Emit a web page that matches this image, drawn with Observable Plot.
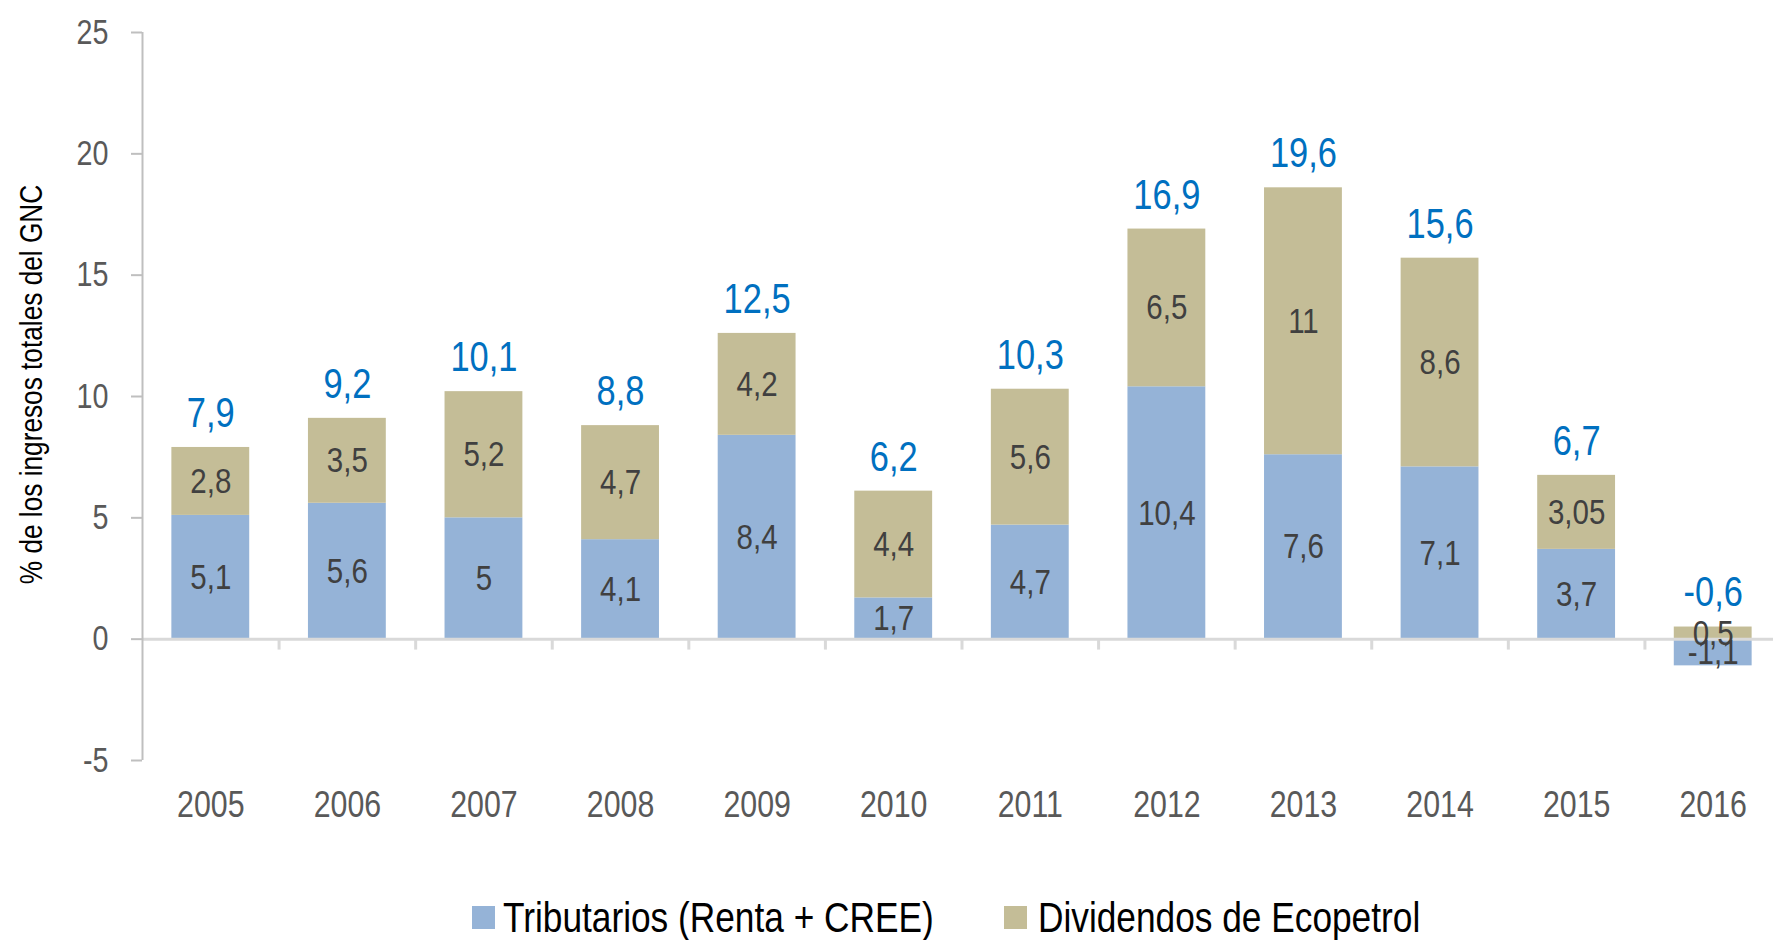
<!DOCTYPE html>
<html>
<head>
<meta charset="utf-8">
<script src="https://cdn.jsdelivr.net/npm/d3@7"></script>
<script src="https://cdn.jsdelivr.net/npm/@observablehq/plot@0.6"></script>
<style>
  html, body { margin: 0; padding: 0; background: #fff; }
  body { width: 1773px; height: 940px; overflow: hidden; font-family: "Liberation Sans", Arial, sans-serif; }
  #chart { height: 885px; overflow: hidden; }
  #legend { height: 55px; box-sizing: border-box; padding-left: 120px; padding-top: 10px; display: flex; justify-content: center; align-items: center; font-size: 43px; color: #000; }
  .item { display: flex; align-items: center; white-space: nowrap; }
  .sw { width: 23px; height: 23px; display: inline-block; }
  .lbl { display: inline-block; transform: scaleX(0.82); transform-origin: left center; }
</style>
</head>
<body>
<div id="chart"></div>
<div id="legend"></div>
<script>
const years = ["2005","2006","2007","2008","2009","2010","2011","2012","2013","2014","2015","2016"];
const tributarios = [5.1, 5.6, 5, 4.1, 8.4, 1.7, 4.7, 10.4, 7.6, 7.1, 3.7, -1.1];
const dividendos  = [2.8, 3.5, 5.2, 4.7, 4.2, 4.4, 5.6, 6.5, 11, 8.6, 3.05, 0.5];
const totales     = [7.9, 9.2, 10.1, 8.8, 12.5, 6.2, 10.3, 16.9, 19.6, 15.6, 6.7, -0.6];
const series = ["Tributarios (Renta + CREE)", "Dividendos de Ecopetrol"];
const seriesColors = ["#95B3D7", "#C4BD97"];
const yTicks = [-5, 0, 5, 10, 15, 20, 25];
const yTitle = "% de los ingresos totales del GNC";

const FONT = '"Liberation Sans", Arial, sans-serif';
const NARROW = 0.82; // horizontal condensing to imitate Arial Narrow
const W = 1773, H = 885, mL = 142, mR = -8, mT = 32, mB = 125;
const step = (W - mL - mR) / years.length;

const rows = years.flatMap((yr, i) => [
  {year: yr, serie: series[0], value: tributarios[i]},
  {year: yr, serie: series[1], value: dividendos[i]}
]);
const tops = years.map((yr, i) => ({
  year: yr,
  top: Math.max(0, tributarios[i]) + Math.max(0, dividendos[i]),
  total: totales[i]
}));
const fmt = v => String(v).replace(".", ",");

const chart = Plot.plot({
  width: W, height: H,
  marginLeft: mL, marginRight: mR, marginTop: mT, marginBottom: mB,
  style: {fontFamily: FONT, background: "transparent"},
  x: {type: "band", domain: years, paddingInner: 0.43, paddingOuter: 0.215, round: false, axis: null},
  y: {domain: [-5, 25], axis: null},
  color: {domain: series, range: seriesColors},
  marks: [
    Plot.barY(rows, {x: "year", y: "value", fill: "serie"}),
    Plot.ruleY([0], {stroke: "#d9d9d9", strokeWidth: 3}),
    Plot.ruleX([years[0]], {x: d => d, dx: -step / 2, y1: -5, y2: 25, stroke: "#bfbfbf", strokeWidth: 2}),
    Plot.ruleX(years.slice(1), {x: d => d, dx: -step / 2, y1: 0, y2: -0.45, stroke: "#d9d9d9", strokeWidth: 3}),
    Plot.axisY({ticks: yTicks, tickSize: 11, tickPadding: 23, stroke: "#bfbfbf", strokeWidth: 2, fill: "#595959", fontSize: 35, tickFormat: d => String(d), label: null}),
    Plot.axisX({tickSize: 0, tickPadding: 30, fill: "#595959", fontSize: 37, label: null}),
    Plot.text(rows, Plot.stackY({x: "year", y: "value", z: "serie", text: d => fmt(d.value), fill: "#404040", fontSize: 36})),
    Plot.text(tops, {x: "year", y: "top", text: d => fmt(d.total), dy: -34, fill: "#0070C0", fontSize: 42}),
    Plot.text([yTitle], {text: d => d, frameAnchor: "left", textAnchor: "middle", rotate: -90, dx: -111, dy: -12, fontSize: 32, fill: "#000"})
  ]
});

// condense every text horizontally (about its own anchor) to imitate a narrow face
chart.querySelectorAll("text").forEach(t => {
  const tr = t.getAttribute("transform") || "";
  t.setAttribute("transform", (tr + ` scale(${NARROW},1)`).trim());
  if (t.hasAttribute("x")) t.setAttribute("x", parseFloat(t.getAttribute("x")) / NARROW);
  t.querySelectorAll("tspan[x]").forEach(s => s.setAttribute("x", parseFloat(s.getAttribute("x")) / NARROW));
});
document.getElementById("chart").appendChild(chart);

const legend = document.getElementById("legend");
const swGaps = [8, 11];
series.forEach((s, i) => {
  const item = document.createElement("div");
  item.className = "item";
  const sw = document.createElement("span");
  sw.className = "sw";
  sw.style.background = seriesColors[i];
  sw.style.marginRight = swGaps[i] + "px";
  const label = document.createElement("span");
  label.className = "lbl";
  label.textContent = s;
  item.appendChild(sw);
  item.appendChild(label);
  legend.appendChild(item);
  const w = label.offsetWidth;
  label.style.marginRight = (-(1 - NARROW) * w + (i === 0 ? 70 : 0)) + "px";
});
</script>
</body>
</html>
